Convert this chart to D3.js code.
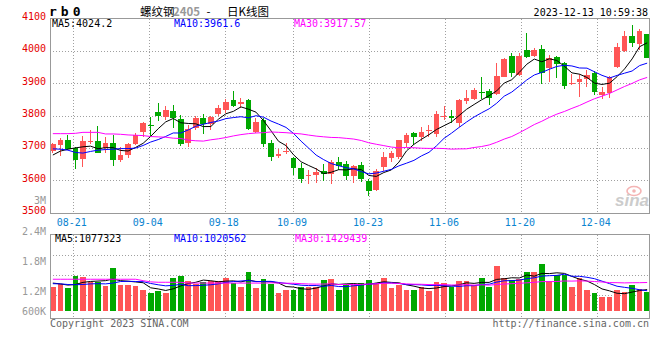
<!DOCTYPE html>
<html><head><meta charset="utf-8">
<script src="https://cdn.jsdelivr.net/npm/d3@7"></script>
<style>
html,body{margin:0;padding:0;background:#fff;}
svg{display:block;}
text{font-family:"DejaVu Sans Mono",monospace;font-size:10px;}
</style></head><body>
<svg id="c" width="660" height="360"></svg>
<script>
// ---------------- data ----------------
const dates = ["08-16","08-17","08-18","08-21","08-22","08-23","08-24","08-25","08-28","08-29","08-30","08-31",
"09-01","09-04","09-05","09-06","09-07","09-08","09-11","09-12","09-13","09-14","09-15","09-18","09-19","09-20","09-21","09-22","09-25","09-26","09-27","09-28",
"10-09","10-10","10-11","10-12","10-13","10-16","10-17","10-18","10-19","10-20","10-23","10-24","10-25","10-26","10-27","10-30","10-31",
"11-01","11-02","11-03","11-06","11-07","11-08","11-09","11-10","11-13","11-14","11-15","11-16","11-17","11-20","11-21","11-22","11-23","11-24","11-27","11-28","11-29","11-30",
"12-01","12-04","12-05","12-06","12-07","12-08","12-11","12-12","12-13"];
const tickDates = ["08-21","09-04","09-18","10-09","10-23","11-06","11-20","12-04"];

const open = [3689,3709,3725,3699,3667,3718,3720,3699,3714,3663,
3678,3712,3750,3771,3811,3794,3815,3788,3716,3760,
3792,3774,3805,3817,3848,3836,3848,3750,3786,3716,
3675,3686,3669,3638,3613,3615,3630,3620,3658,3651,
3612,3647,3598,3570,3642,3670,3673,3716,3745,3733,
3753,3744,3797,3799,3778,3845,3851,3873,3876,3866,
3920,3984,3925,4002,3984,4005,3946,3981,3961,3898,
3904,3912,3932,3862,3868,3951,4000,4045,4020,4051];
const high = [3716,3731,3739,3702,3737,3755,3768,3733,3739,3702,
3714,3745,3781,3795,3840,3829,3832,3801,3771,3799,
3805,3799,3832,3850,3876,3853,3851,3791,3791,3725,
3697,3714,3673,3652,3632,3637,3651,3663,3673,3660,
3647,3656,3604,3634,3687,3689,3725,3745,3750,3763,
3771,3814,3829,3817,3851,3879,3884,3920,3881,3963,
3979,3994,3994,4055,4007,4017,3987,3985,3964,3927,
3927,3940,3937,3889,3922,4023,4060,4080,4066,4053];
const low = [3683,3675,3694,3634,3642,3712,3685,3685,3644,3658,
3670,3709,3735,3733,3784,3786,3761,3706,3704,3755,
3743,3755,3800,3809,3825,3822,3755,3745,3702,3661,
3668,3681,3617,3593,3588,3593,3599,3589,3632,3601,
3593,3594,3553,3567,3630,3655,3665,3704,3709,3720,
3735,3735,3786,3778,3766,3836,3848,3851,3832,3863,
3918,3920,3923,3979,3981,3896,3904,3915,3882,3894,
3858,3889,3863,3850,3853,3946,3997,4010,4002,3979];
const close = [3711,3725,3697,3663,3721,3721,3685,3714,3663,3678,
3712,3740,3778,3769,3797,3817,3793,3712,3758,3792,
3774,3794,3824,3843,3829,3843,3758,3779,3712,3673,
3680,3691,3637,3605,3616,3627,3618,3658,3645,3612,
3645,3605,3568,3630,3672,3685,3725,3740,3733,3750,
3756,3805,3799,3791,3848,3853,3879,3871,3855,3922,
3974,3930,3984,3981,4002,3932,3976,3958,3892,3900,
3912,3925,3871,3871,3920,4012,4045,4025,4060,3979];

const ma5 = [3678,3690,3696,3700,3703.4,3705.4,3697.4,3700.8,3700.8,3692.2,
3690.4,3701.4,3714.2,3735.4,3759.2,3780.2,3790.8,3777.6,3775.4,3774.4,
3765.8,3766,3788.4,3805.4,3812.8,3826.6,3819.4,3810.4,3784.2,3753,
3720.4,3707,3678.6,3657.2,3645.8,3635.2,3620.6,3624.8,3632.8,3632,
3635.6,3633,3615,3612,3624,3632,3656,3690.4,3711,3726.6,
3740.8,3756.8,3768.6,3780.2,3799.8,3819.2,3834,3848.4,3861.2,3876,
3900.2,3910.4,3933,3958.2,3974.2,3965.8,3975,3969.8,3952,3931.6,
3927.6,3917.4,3900,3895.8,3899.8,3919.8,3943.8,3974.6,4012.4,4024.2];
const ma10 = [3697,3696,3693,3686,3684,3689,3693,3695,3696,3697.8,
3697.9,3699.4,3707.5,3718.1,3725.7,3735.3,3746.1,3745.9,3755.4,3766.8,
3773,3778.4,3783,3790.4,3793.6,3796.2,3792.7,3799.4,3794.8,3782.9,
3773.5,3763.2,3744.5,3720.7,3699.4,3677.8,3663.8,3651.7,3645,3638.9,
3635.4,3626.8,3619.9,3622.4,3628,3633.8,3644.5,3652.7,3661.5,3675.3,
3686.4,3706.4,3729.5,3745.6,3763.2,3780,3795.4,3808.5,3820.7,3837.9,
3859.7,3872.2,3890.7,3909.7,3925.1,3933,3942.7,3951.4,3955.1,3952.9,
3946.7,3946.2,3934.9,3923.9,3915.7,3923.7,3930.6,3937.3,3954.1,3961.6];
const ma30 = [3744,3744,3744,3745,3748,3748,3748,3743,3743,3742,
3740,3739,3738,3735,3734,3733,3730,3729,3724,3722,
3721,3725,3728,3732,3737,3741,3744,3746,3747,3749.2,
3748.1,3747,3745,3743.1,3739.6,3736.4,3734.2,3732.3,3731.7,3729.5,
3727.3,3722.8,3715.8,3711.2,3707,3702.6,3700.3,3701.3,3700.4,3699,
3698.4,3698.8,3698,3696.2,3696.9,3697.2,3701.2,3704.3,3709.1,3717.4,
3727.2,3735.1,3746.7,3759.2,3772.1,3782.3,3794.2,3804.2,3812.4,3822,
3830.9,3841.6,3851.7,3859.7,3868,3878.9,3889.6,3899.1,3910,3917.57];

// volume, in millions of lots
const volume = [1.206,1.337,1.156,1.767,1.702,1.437,1.437,1.256,2.164,1.305,
1.305,1.256,1.057,0.908,1.022,0.923,1.667,1.767,1.504,1.337,
1.469,1.504,1.504,1.667,1.404,1.206,1.950,1.171,1.618,1.370,
0.908,1.057,1.057,1.206,1.221,1.221,1.568,1.603,1.057,1.355,
1.305,1.404,1.553,1.404,1.653,1.156,1.305,1.057,1.057,1.206,
1.007,1.454,1.404,1.206,1.504,1.504,1.305,1.653,1.206,2.248,
1.653,1.553,1.603,1.950,1.950,2.347,1.504,1.801,1.801,1.206,
1.653,1.057,0.908,0.725,0.725,1.057,0.958,1.305,1.107,0.958];
const volMa5 = [1.40,1.36,1.30,1.33,1.434,1.480,1.500,1.520,1.599,1.520,
1.493,1.457,1.417,1.166,1.110,1.033,1.115,1.257,1.377,1.440,
1.549,1.516,1.464,1.496,1.510,1.457,1.546,1.480,1.470,1.463,
1.403,1.225,1.202,1.120,1.090,1.152,1.255,1.364,1.334,1.361,
1.378,1.345,1.335,1.404,1.464,1.434,1.414,1.315,1.246,1.156,
1.126,1.156,1.226,1.255,1.315,1.414,1.385,1.434,1.434,1.583,
1.613,1.663,1.653,1.801,1.742,1.881,1.871,1.910,1.881,1.732,
1.593,1.504,1.325,1.110,1.014,0.894,0.875,0.954,1.030,1.077];
const volMa10 = [1.37,1.36,1.33,1.32,1.33,1.36,1.37,1.36,1.40,1.477,
1.487,1.479,1.469,1.383,1.315,1.263,1.286,1.337,1.271,1.275,
1.291,1.316,1.361,1.436,1.475,1.503,1.531,1.472,1.483,1.486,
1.430,1.386,1.341,1.295,1.276,1.278,1.240,1.283,1.227,1.225,
1.265,1.300,1.349,1.369,1.412,1.406,1.380,1.325,1.325,1.310,
1.280,1.285,1.270,1.251,1.236,1.270,1.270,1.330,1.345,1.449,
1.514,1.524,1.544,1.618,1.663,1.747,1.767,1.782,1.841,1.737,
1.737,1.687,1.618,1.495,1.373,1.244,1.189,1.140,1.070,1.021];
const volMa30 = [1.59,1.59,1.59,1.59,1.59,1.59,1.59,1.59,1.59,1.59,
1.59,1.59,1.52,1.46,1.44,1.44,1.44,1.44,1.40,1.40,
1.40,1.40,1.40,1.40,1.40,1.40,1.40,1.40,1.40,1.413,
1.403,1.393,1.390,1.371,1.355,1.348,1.352,1.364,1.327,1.329,
1.329,1.334,1.350,1.367,1.388,1.396,1.383,1.360,1.345,1.341,
1.325,1.323,1.320,1.305,1.308,1.318,1.297,1.313,1.299,1.328,
1.353,1.370,1.388,1.413,1.437,1.474,1.472,1.479,1.504,1.499,
1.510,1.499,1.477,1.455,1.424,1.420,1.409,1.417,1.419,1.429];

const priceTicks = [4100,4000,3900,3800,3700,3600,3500];
const priceGrid = [4000,3900,3800,3700,3600];
const volTickValues = [2.4,1.8,1.2,0.6];
const volTickLabels = ["2.4M","1.8M","1.2M","600K"];
const volGridValues = [2.0,1.6,1.2];
const priceLegend = ["MA5:4024.2","MA10:3961.6","MA30:3917.57"];
const volLegend = ["MA5:1077323","MA10:1020562","MA30:1429439"];
const titleParts = ["螺纹钢","2405"," - ","日K线图"];
const symbol = "rb0";
const stamp = "2023-12-13 10:59:38";

// ---------------- layout ----------------
const n = dates.length;
const L = 50, R = 650;
const RED = "#ff5555", GREEN = "#00a800";
const lineColors = ["#000000","#0000ff","#ff00ff"];
const svg = d3.select("#c");

const xb = d3.scaleBand().domain(d3.range(n)).range([L, R]).paddingInner(0.24).paddingOuter(0);
const bw = xb.bandwidth();
const cx = i => xb(i) + bw / 2;
const gridX = d3.scaleLinear().domain([0, n - 1]).range([L, R]);

const y = d3.scaleLinear().domain([3500, 4100]).range([212.7, 18.3]);
const vy = d3.scaleLinear().domain([0, 3.8]).range([311.3, 234.7]);
const vAxis = d3.scaleLinear().domain([0.8, 2.4]).range([314.7, 234.7]).clamp(true);

const pTop = 18.5, pBot = 213.5, vTop = 234.5, vBot = 318.5;

// grid
const g = svg.append("g").attr("stroke", "#a0a0a0").attr("stroke-dasharray", "1,2").attr("shape-rendering", "crispEdges");
priceGrid.forEach(v => g.append("line").attr("x1", L).attr("x2", R).attr("y1", Math.round(y(v)) + 0.5).attr("y2", Math.round(y(v)) + 0.5));
volGridValues.forEach(v => g.append("line").attr("x1", L).attr("x2", R).attr("y1", Math.round(vAxis(v)) + 0.5).attr("y2", Math.round(vAxis(v)) + 0.5));
tickDates.forEach(d => {
  const k = dates.indexOf(d);
  const xx = Math.round(gridX(k)) + 0.5;
  g.append("line").attr("x1", xx).attr("x2", xx).attr("y1", pTop).attr("y2", pBot);
  g.append("line").attr("x1", xx).attr("x2", xx).attr("y1", vTop).attr("y2", vBot);
});

// watermark
const wm = svg.append("g");
wm.append("ellipse").attr("cx", 634).attr("cy", 191).attr("rx", 7).attr("ry", 4.5).attr("fill", "none").attr("stroke", "#f4b4b4").attr("stroke-width", 1.6);
wm.append("circle").attr("cx", 634).attr("cy", 191).attr("r", 1.8).attr("fill", "#f4b4b4");
wm.append("text").attr("x", 649).attr("y", 206).attr("text-anchor", "end")
  .style("font-family", "Liberation Sans, Arial, sans-serif").style("font-size", "17px").style("font-style", "italic").style("font-weight", "bold")
  .attr("fill", "#cccccc").text("sina");

// candles
const cg = svg.append("g");
d3.range(n).forEach(i => {
  const up = close[i] >= open[i];
  const col = up ? RED : GREEN;
  const wx = Math.floor(cx(i)) + 0.5;
  cg.append("line").attr("x1", wx).attr("x2", wx).attr("y1", y(high[i])).attr("y2", y(low[i]))
    .attr("stroke", col).attr("stroke-width", 1).attr("shape-rendering", "crispEdges");
  const top = y(Math.max(open[i], close[i])), bot = y(Math.min(open[i], close[i]));
  cg.append("rect").attr("x", xb(i)).attr("width", bw).attr("y", top).attr("height", Math.max(1, bot - top))
    .attr("fill", col).attr("shape-rendering", "crispEdges");
});

// MA lines
const pline = d3.line().x((d, i) => cx(i)).y(d => y(d));
[ma5, ma10, ma30].forEach((s, j) => svg.append("path").attr("d", pline(s)).attr("fill", "none").attr("stroke", lineColors[j]).attr("stroke-width", 1));

// volume bars
const vg = svg.append("g");
d3.range(n).forEach(i => {
  const col = close[i] >= open[i] ? RED : GREEN;
  vg.append("rect").attr("x", xb(i)).attr("width", bw).attr("y", vy(volume[i])).attr("height", vy(0) - vy(volume[i]))
    .attr("fill", col).attr("shape-rendering", "crispEdges");
});
const vline = d3.line().x((d, i) => cx(i)).y(d => vy(d));
[volMa5, volMa10, volMa30].forEach((s, j) => svg.append("path").attr("d", vline(s)).attr("fill", "none").attr("stroke", lineColors[j]).attr("stroke-width", 1));

// frames
const fr = svg.append("g").attr("fill", "none").attr("stroke", "#999").attr("stroke-width", 1).attr("shape-rendering", "crispEdges");
fr.append("rect").attr("x", L + 0.5).attr("y", pTop).attr("width", R - L - 1).attr("height", pBot - pTop);
fr.append("rect").attr("x", L + 0.5).attr("y", vTop).attr("width", R - L - 1).attr("height", vBot - vTop);

// axis labels
priceTicks.forEach(v => svg.append("text").attr("x", 46).attr("y", y(v) + 1.5).attr("text-anchor", "end").attr("fill", "#e60000").text(v));
svg.append("text").attr("x", 46).attr("y", 204).attr("text-anchor", "end").attr("fill", "#999").text("3M");
volTickValues.forEach((v, k) => svg.append("text").attr("x", 46).attr("y", vAxis(v)).attr("text-anchor", "end").attr("fill", "#999").text(volTickLabels[k]));
tickDates.forEach(d => {
  const k = dates.indexOf(d);
  svg.append("text").attr("x", gridX(k) - 1).attr("y", 225.5).attr("text-anchor", "middle").attr("fill", "#0a84d0").text(d);
});

// legends
const legX = [52, 174, 294];
priceLegend.forEach((t, j) => svg.append("text").attr("x", legX[j]).attr("y", 26.8).attr("fill", lineColors[j]).text(t));
const vlegX = [55, 174, 295];
volLegend.forEach((t, j) => svg.append("text").attr("x", vlegX[j]).attr("y", 241.8).attr("fill", lineColors[j]).text(t));

// header
svg.append("text").attr("x", 49).attr("y", 16).style("font-size", "13px").style("font-weight", "bold").style("letter-spacing", "4px").attr("fill", "#000").text(symbol);
const tt = svg.append("text").attr("y", 16).style("font-family", "'Noto Sans CJK SC', sans-serif").style("font-size", "11.5px").attr("fill", "#000").attr("xml:space", "preserve");
const tx = [140, 173, 204, 227];
const tcol = ["#000", "#999", "#000", "#000"];
titleParts.forEach((p, k) => tt.append("tspan").attr("x", tx[k]).attr("fill", tcol[k]).style("font-weight", k === 1 ? "bold" : "normal").text(p));
svg.append("text").attr("x", 648).attr("y", 16).attr("text-anchor", "end").attr("fill", "#000").text(stamp);

// footer
svg.append("text").attr("x", 50).attr("y", 327).attr("fill", "#666").text("Copyright 2023 SINA.COM");
svg.append("text").attr("x", 649).attr("y", 327).attr("text-anchor", "end").attr("fill", "#666").text("http://finance.sina.com.cn");
</script>
</body></html>
